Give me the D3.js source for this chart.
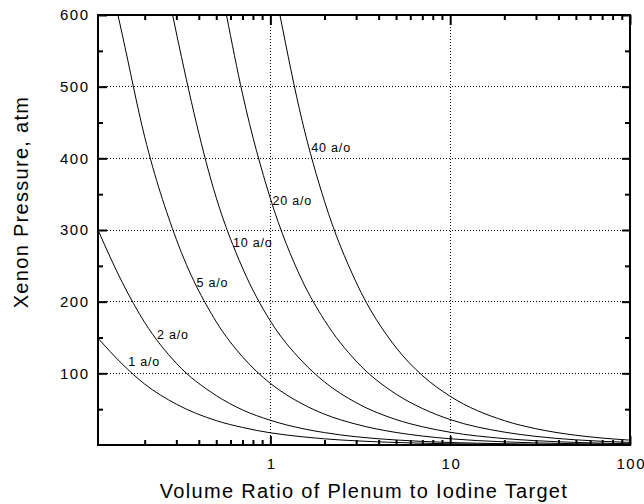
<!DOCTYPE html>
<html>
<head>
<meta charset="utf-8">
<script src="https://cdn.jsdelivr.net/npm/d3@7"></script>
<style>
  html, body { margin: 0; padding: 0; background: #fff; }
  svg { display: block; }
  text { font-family: "Liberation Sans", Arial, Helvetica, sans-serif; fill: #000; }
</style>
</head>
<body>
<script>
// Volume ratio of plenum to iodine target (log axis)
const volumeRatio = [0.11, 0.15, 0.2, 0.3, 0.5, 0.7, 1, 1.5, 2, 3, 5, 7, 10, 20, 30, 50, 100];

// Xenon pressure (atm) for each xenon concentration, at the ratios above
const p1  = [149, 113, 85, 57, 34, 24.5, 17, 11.5, 8.6, 5.8, 3.5, 2.5, 1.7, 0.9, 0.6, 0.35, 0.17];
const p2  = [300, 227, 171, 114, 69, 49, 34.5, 23, 17.3, 11.5, 7, 5, 3.5, 1.8, 1.2, 0.7, 0.35];
// higher concentrations start where they leave the top of the plot
const x5  = [0.142, 0.15, 0.2, 0.3, 0.5, 0.7, 1, 1.5, 2, 3, 5, 7, 10, 20, 30, 50, 100];
const p5  = [600, 573, 430, 287, 172, 123, 86, 57.5, 43, 29, 17.5, 12.5, 8.7, 4.4, 2.9, 1.8, 0.9];
const x10 = [0.286, 0.3, 0.5, 0.7, 1, 1.5, 2, 3, 5, 7, 10, 20, 30, 50, 100];
const p10 = [600, 575, 345, 247, 173, 117, 88, 59, 35.5, 25.5, 17.8, 9, 6, 3.6, 1.8];
const x20 = [0.57, 0.7, 1, 1.5, 2, 3, 5, 7, 10, 20, 30, 50, 100];
const p20 = [600, 490, 344, 230, 174, 117, 71, 51, 35.5, 18, 12, 7.2, 3.6];
const x40 = [1.13, 1.5, 2, 3, 5, 7, 10, 20, 30, 50, 70, 100];
const p40 = [600, 453, 340, 227, 136, 97, 68, 34, 22.7, 13.6, 9.7, 6.8];

const seriesNames = ["1 a/o", "2 a/o", "5 a/o", "10 a/o", "20 a/o", "40 a/o"];
const seriesX = [volumeRatio, volumeRatio, x5, x10, x20, x40];
const seriesY = [p1, p2, p5, p10, p20, p40];

// where each concentration label sits (ratio, pressure)
const labelX = [0.162, 0.234, 0.388, 0.62, 1.026, 1.69];
const labelY = [110.6, 147.5, 220, 276, 335, 409];

const yTicks = [100, 200, 300, 400, 500, 600];
const yMinorTicks = [50, 150, 250, 350, 450, 550];
const xTickLabels = [1, 10, 100];
const xGrid = [1, 10];
const yGrid = [100, 200, 300, 400, 500];

const W = 644, H = 504;
const m = { left: 98, right: 14, top: 15, bottom: 59 };

const svg = d3.select("body").append("svg").attr("width", W).attr("height", H);

const x = d3.scaleLog().domain([0.11, 100]).range([m.left, W - m.right]);
const y = d3.scaleLinear().domain([0, 600]).range([H - m.bottom, m.top]);

const x0 = m.left, x1 = W - m.right, y0 = H - m.bottom, y1 = m.top;

// clip curves to the plotting area
svg.append("defs").append("clipPath").attr("id", "plot")
  .append("rect").attr("x", x0).attr("y", y1).attr("width", x1 - x0).attr("height", y0 - y1);

// dotted grid
const grid = svg.append("g").attr("stroke", "#000").attr("stroke-width", 1)
  .attr("stroke-dasharray", "1,2").attr("shape-rendering", "crispEdges");
grid.selectAll(".gy").data(yGrid).join("line")
  .attr("x1", x0).attr("x2", x1).attr("y1", d => y(d)).attr("y2", d => y(d));
grid.selectAll(".gx").data(xGrid).join("line")
  .attr("y1", y0).attr("y2", y1).attr("x1", d => x(d)).attr("x2", d => x(d));

// curves
const line = d3.line().curve(d3.curveMonotoneX);
const curves = svg.append("g").attr("clip-path", "url(#plot)")
  .attr("fill", "none").attr("stroke", "#000").attr("stroke-width", 1);
seriesY.forEach((ys, i) => {
  const pts = ys.map((v, j) => [x(seriesX[i][j]), y(v)]);
  curves.append("path").attr("d", line(pts));
});

// curve labels
svg.append("g").selectAll("text").data(seriesNames).join("text")
  .attr("x", (d, i) => x(labelX[i]))
  .attr("y", (d, i) => y(labelY[i]))
  .attr("font-size", 12.5)
  .attr("letter-spacing", 0.8)
  .text(d => d);

// axes with inward ticks
const xMinor = [];
[0.1, 1, 10].forEach(dec => { for (let k = 2; k <= 9; k++) xMinor.push(dec * k); });
const xMinorIn = xMinor.filter(v => v >= 0.11);

const ax = svg.append("g");
function addAxis(axis, tx, ty) {
  const g = ax.append("g").attr("transform", `translate(${tx},${ty})`).call(axis);
  g.select(".domain").remove();
  g.selectAll(".tick line").attr("stroke", "#000").attr("stroke-width", 2);
  return g;
}

// bottom
const gb = addAxis(d3.axisBottom(x).tickValues(xTickLabels).tickSize(-9)
  .tickFormat(d3.format("d")).tickPadding(13), 0, y0);
gb.selectAll("text").attr("font-size", 15).attr("font-family", null)
  .attr("letter-spacing", 1.5).attr("dx", 0.75);
addAxis(d3.axisBottom(x).tickValues(xMinorIn).tickSize(-5).tickFormat(""), 0, y0);
// top
addAxis(d3.axisTop(x).tickValues(xTickLabels).tickSize(-10).tickFormat(""), 0, y1);
addAxis(d3.axisTop(x).tickValues(xMinorIn).tickSize(-5).tickFormat(""), 0, y1);
// left
const gl = addAxis(d3.axisLeft(y).tickValues(yTicks).tickSize(-9).tickPadding(8.5), x0, 0);
gl.selectAll("text").attr("font-size", 15).attr("font-family", null)
  .attr("letter-spacing", 1.5);
addAxis(d3.axisLeft(y).tickValues(yMinorTicks).tickSize(-5).tickFormat(""), x0, 0);
// right
addAxis(d3.axisRight(y).tickValues(yTicks).tickSize(-8).tickFormat(""), x1, 0);
addAxis(d3.axisRight(y).tickValues(yMinorTicks).tickSize(-5).tickFormat(""), x1, 0);

// frame
svg.append("rect").attr("x", x0).attr("y", y1).attr("width", x1 - x0).attr("height", y0 - y1)
  .attr("fill", "none").attr("stroke", "#000").attr("stroke-width", 2);

// axis titles
svg.append("text").attr("x", (x0 + x1) / 2).attr("y", 498)
  .attr("text-anchor", "middle").attr("font-size", 20).attr("letter-spacing", 1.3)
  .text("Volume Ratio of Plenum to Iodine Target");
svg.append("text").attr("transform", "translate(28,202) rotate(-90)")
  .attr("text-anchor", "middle").attr("font-size", 20).attr("letter-spacing", 1.3)
  .text("Xenon Pressure, atm");
</script>
</body>
</html>
